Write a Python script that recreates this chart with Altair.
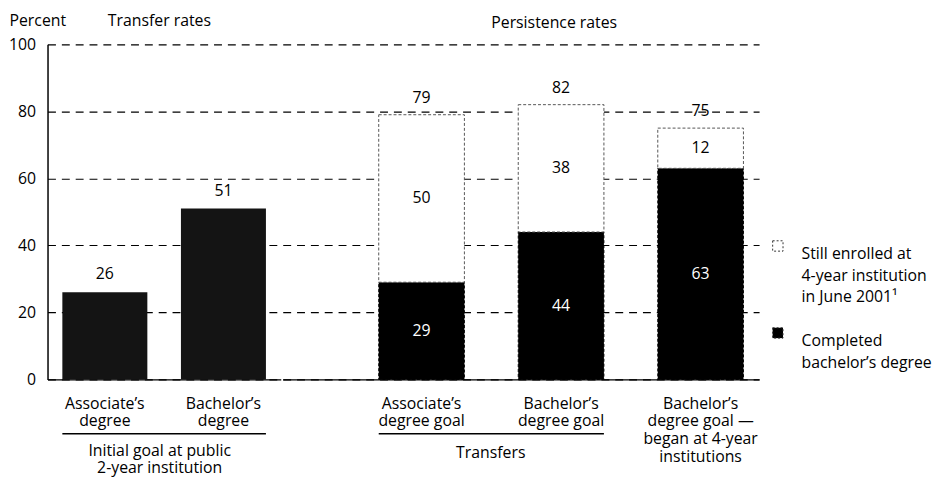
import altair as alt
import pandas as pd

FONT = "Open Sans"

# ---- data ----
transfer_cats = ["Associate’s\ndegree", "Bachelor’s\ndegree"]
transfer_rates = [26, 51]

persist_cats = ["Associate’s\ndegree goal", "Bachelor’s\ndegree goal",
                "Bachelor’s\ndegree goal —\nbegan at 4-year\ninstitutions"]
completed = [29, 44, 63]
still_enrolled = [50, 38, 12]
status_names = ["Still enrolled at\n4-year institution\nin June 2001¹", "Completed\nbachelor’s degree"]
y_ticks = [0, 20, 40, 60, 80, 100]
panel_titles = ["Transfer rates", "Persistence rates"]

H = 339
W1 = 236
W2 = 482

df_t = pd.DataFrame({"cat": transfer_cats, "rate": transfer_rates})
rows = []
for c, comp, still in zip(persist_cats, completed, still_enrolled):
    rows.append({"cat": c, "status": status_names[1], "order": 0, "value": comp, "y0": 0, "y1": comp})
    rows.append({"cat": c, "status": status_names[0], "order": 1, "value": still, "y0": comp, "y1": comp + still})
df_p = pd.DataFrame(rows)
df_p["mid"] = (df_p["y0"] + df_p["y1"]) / 2
df_tot = pd.DataFrame({"cat": persist_cats, "total": [a + b for a, b in zip(completed, still_enrolled)]})
df_rule_l = pd.DataFrame({"cat": [transfer_cats[0]], "cat_end": [transfer_cats[1]]})
df_rule_r = pd.DataFrame({"cat": [persist_cats[0]], "cat_end": [persist_cats[1]]})

yscale = alt.Scale(domain=[0, 100], nice=False, zero=True)

grid_kw = dict(grid=True, gridDash=[8, 6], gridColor="black", gridWidth=1.2, gridOpacity=1)

yaxis_left = alt.Axis(values=y_ticks, title="Percent", titleAngle=0, titleAlign="left",
                      titleX=-39, titleY=-19, titleBaseline="alphabetic", titleFontWeight="normal",
                      titleFontSize=16, titleFont=FONT, titleColor="black",
                      labelFontSize=16, labelFont=FONT, labelColor="black", labelPadding=12,
                      ticks=False, domain=True, domainColor="black", domainWidth=1.5, **grid_kw)
yaxis_right = alt.Axis(values=y_ticks, labels=False, ticks=False, domain=False, title=None, **grid_kw)

xaxis_common = dict(labelExpr="split(datum.label, '\\n')", labelAngle=0, labelFontSize=16, labelFont=FONT,
                    labelColor="black", labelLineHeight=18, labelBaseline="top", labelPadding=16,
                    labelLimit=400, ticks=False, domainColor="black", domainWidth=1.5,
                    titleFontSize=16, titleFont=FONT, titleFontWeight="normal", titleColor="black",
                    titleLineHeight=17, titleBaseline="top")

xl_scale = alt.Scale(domain=transfer_cats, paddingInner=0.2833, paddingOuter=0.125)
xr_scale = alt.Scale(domain=persist_cats, paddingInner=0.386, paddingOuter=0.40, align=0.86)

xl = alt.X("cat:N", sort=transfer_cats, scale=xl_scale,
           axis=alt.Axis(title=["Initial goal at public", "2-year institution"], titleX=113, titleY=64,
                         **xaxis_common))
xr = alt.X("cat:N", sort=persist_cats, scale=xr_scale,
           axis=alt.Axis(title="Transfers", titleX=210, titleY=66, **xaxis_common))

title_style = dict(align="left", baseline="alphabetic", fontSize=16, font=FONT, color="black")

# ---- left panel ----
base_l = alt.Chart(df_t)
bars_l = base_l.mark_bar(color="#141414").encode(
    x=xl, y=alt.Y("rate:Q", scale=yscale, axis=yaxis_left))
txt_l = base_l.mark_text(dy=-18, baseline="middle", fontSize=16, font=FONT, color="black").encode(
    x=xl, y=alt.Y("rate:Q", scale=yscale), text="rate:Q")
rule_l = alt.Chart(df_rule_l).mark_rule(color="black", strokeWidth=1.5).encode(
    x=alt.X("cat:N", bandPosition=0, scale=xl_scale),
    x2=alt.X2("cat_end", bandPosition=1),
    y=alt.value(H + 55))
title_l = alt.Chart(pd.DataFrame({"t": [panel_titles[0]]})).mark_text(**title_style).encode(
    text="t:N", x=alt.value(61), y=alt.value(-19))
left = alt.layer(bars_l, txt_l, rule_l, title_l).properties(width=W1, height=H)

# ---- right panel ----
base_r = alt.Chart(df_p)
bars_r = base_r.mark_bar(strokeWidth=1, strokeDash=[3, 2]).encode(
    x=xr,
    y=alt.Y("y0:Q", scale=yscale, axis=yaxis_right),
    y2="y1:Q",
    color=alt.Color("status:N", scale=alt.Scale(domain=status_names, range=["white", "black"]),
                    legend=alt.Legend(title=None, orient="none", legendX=493, legendY=196,
                                      symbolType="square", symbolSize=110, symbolStrokeColor="#333",
                                      symbolStrokeWidth=1, symbolDash=[2, 2],
                                      labelExpr="split(datum.label, '\\n')", labelFontSize=16,
                                      labelFont=FONT, labelColor="black", labelBaseline="top",
                                      labelOffset=16, rowPadding=20, labelLimit=300)),
    stroke=alt.Stroke("status:N", scale=alt.Scale(domain=status_names, range=["#555", "#000"]), legend=None))
txt_in = base_r.mark_text(fontSize=16, font=FONT, baseline="middle").encode(
    x=xr, y=alt.Y("mid:Q", scale=yscale), text="value:Q",
    color=alt.condition("datum.order == 0", alt.value("white"), alt.value("black")))
txt_tot = alt.Chart(df_tot).mark_text(dy=-17, baseline="middle", fontSize=16, font=FONT, color="black").encode(
    x=xr, y=alt.Y("total:Q", scale=yscale), text="total:Q")
rule_r = alt.Chart(df_rule_r).mark_rule(color="black", strokeWidth=1.5).encode(
    x=alt.X("cat:N", bandPosition=0, scale=xr_scale),
    x2=alt.X2("cat_end", bandPosition=1),
    y=alt.value(H + 55))
title_r = alt.Chart(pd.DataFrame({"t": [panel_titles[1]]})).mark_text(**title_style).encode(
    text="t:N", x=alt.value(211), y=alt.value(-17))
right = alt.layer(bars_r, txt_in, txt_tot, rule_r, title_r).properties(width=W2, height=H)

chart = alt.hconcat(left, right, spacing=0).resolve_legend(color="independent").properties(
    padding={"left": 0, "top": 1, "right": 0, "bottom": 0}, background="white"
).configure(style={"guide-label": {"lineHeight": 22}}).configure_view(stroke="transparent")

chart.save("out.html", embed_options={"renderer": "svg", "actions": False})
